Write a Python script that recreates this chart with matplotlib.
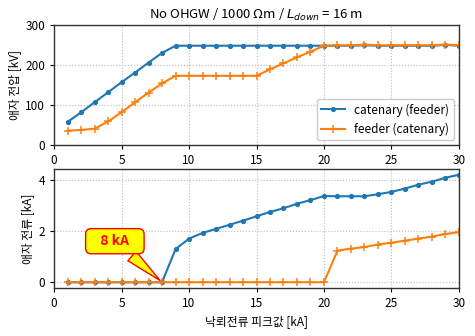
import matplotlib
matplotlib.use("Agg")
import matplotlib.pyplot as plt

plt.rcParams['font.family'] = ['Noto Sans CJK KR', 'DejaVu Sans']
plt.rcParams['axes.unicode_minus'] = False

peak_current = list(range(1, 31))

# insulator voltage [kV]
v_catenary = [58, 82, 107, 132, 157, 181, 206, 230, 248, 248, 248, 248, 248, 248, 248,
              248, 248, 248, 248, 248, 248, 248, 249, 248, 248, 248, 248, 248, 250, 248]
v_feeder = [36, 38, 41, 59, 82, 107, 131, 154, 173, 173, 173, 173, 173, 173, 173,
            189, 204, 219, 233, 248, 249, 249, 251, 249, 249, 249, 249, 249, 251, 249]

# insulator current [kA]
i_catenary = [0, 0, 0, 0, 0, 0, 0, 0, 1.29, 1.70, 1.92, 2.08, 2.24, 2.40, 2.57,
              2.74, 2.88, 3.06, 3.20, 3.36, 3.35, 3.35, 3.35, 3.43, 3.52, 3.65,
              3.80, 3.92, 4.07, 4.19]
i_feeder = [0, 0, 0, 0, 0, 0, 0, 0, 0, 0, 0, 0, 0, 0, 0,
            0, 0, 0, 0, 0, 1.23, 1.31, 1.37, 1.47, 1.54, 1.62, 1.70, 1.78, 1.88, 1.95]

labels = ['catenary (feeder)', 'feeder (catenary)']
x_ticks = [0, 5, 10, 15, 20, 25, 30]

fig = plt.figure(figsize=(4.75, 3.36), dpi=100)
ax1 = fig.add_axes([0.114, 0.568, 0.852, 0.358])
ax2 = fig.add_axes([0.114, 0.144, 0.852, 0.352])

c_blue = '#1f77b4'
c_orange = '#ff7f0e'

ax1.plot(peak_current, v_catenary, '.-', color=c_blue, ms=5.5, lw=1.5, label=labels[0])
ax1.plot(peak_current, v_feeder, '+-', color=c_orange, ms=6, mew=1.1, lw=1.5, label=labels[1])
ax1.set_ylim(0, 300)
ax1.set_yticks([0, 100, 200, 300])
ax1.set_ylabel('애자 전압 [kV]', fontsize=8.5, labelpad=3)
ax1.set_title('No OHGW / 1000 Ωm / $L_{down}$ = 16 m', fontsize=9.5, pad=4)
ax1.legend(loc='lower right', fontsize=8.5, framealpha=1, edgecolor='#cccccc',
           borderaxespad=0.4)

ax2.plot(peak_current, i_catenary, '.-', color=c_blue, ms=5.5, lw=1.5)
ax2.plot(peak_current, i_feeder, '+-', color=c_orange, ms=6, mew=1.1, lw=1.5)
ax2.set_yticks([0, 2, 4])
ax2.set_ylabel('애자 전류 [kA]', fontsize=8.5, labelpad=3)
ax2.set_xlabel('낙뢰전류 피크값 [kA]', fontsize=8.5)

ax2.annotate('   8 kA   ', xy=(peak_current[7], i_catenary[7]), xytext=(4.5, 1.6),
             ha='center', va='center', color='red', fontweight='bold', fontsize=10,
             bbox=dict(boxstyle='round,pad=0.4,rounding_size=0.4', fc='yellow', ec='red', lw=1),
             arrowprops=dict(arrowstyle='wedge,tail_width=0.9', fc='yellow', ec='red', lw=1))

for ax in (ax1, ax2):
    ax.set_xlim(0, 30)
    ax.set_xticks(x_ticks)
    ax.grid(True, linestyle=':', color='#bbbbbb', lw=0.8)
    ax.tick_params(labelsize=8.5, length=3)
    for s in ax.spines.values():
        s.set_color('#333333')
        s.set_linewidth(1.0)

fig.savefig('out.png', dpi=100)
